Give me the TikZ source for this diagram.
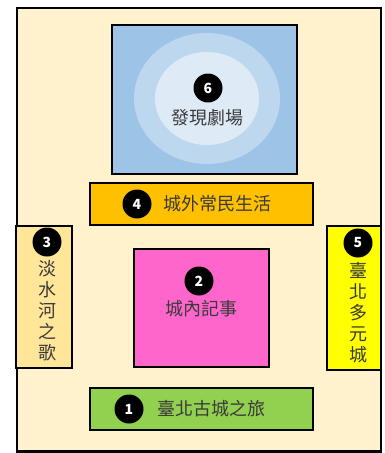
\documentclass[tikz,border=0pt]{standalone}
\usepackage{fontspec}
\setmainfont{Noto Sans CJK TC}
\usetikzlibrary{positioning}

\definecolor{bgcream}{HTML}{FFF2CC}
\definecolor{hallblue}{HTML}{9DC3E6}
\definecolor{ringblue}{HTML}{BDD7EE}
\definecolor{coreblue}{HTML}{DEEBF7}
\definecolor{outorange}{HTML}{FFC000}
\definecolor{riversand}{HTML}{FFE699}
\definecolor{cityyellow}{HTML}{FFFF00}
\definecolor{innerpink}{HTML}{FF66CC}
\definecolor{tourgreen}{HTML}{92D050}
\definecolor{inkgray}{HTML}{3A3A3A}

\tikzset{
  zone/.style={draw=black, line width=1.5pt, inner sep=0pt},
  badge/.style={circle, fill=black, text=white, inner sep=0pt, minimum size=29pt,
    font=\bfseries\fontsize{14}{14}\selectfont},
  zonetext/.style={text=inkgray, inner sep=0pt, align=center,
    font=\fontsize{18}{21}\selectfont}
}

\begin{document}
\begin{tikzpicture}[scale=1.000000,x=1pt,y=-1pt]
\useasboundingbox (0.000000, 0.000000) rectangle (384.000000, 453.000000);
% Drawing floor
\draw[fill=bgcream, line width=2.5pt] (17.000000, 8.000000) rectangle (381.000000, 451.500000);
% Done with floor; drawing zones
% Zone 6: theatre
\node[zone, fill=hallblue, minimum width=185pt, minimum height=149pt] (hall6) at (204.500000, 99.500000) {};
\fill[ringblue] (207.000000, 98.500000) ellipse (73.000000pt and 65.500000pt);
\fill[coreblue] (207.000000, 98.500000) ellipse (52.000000pt and 46.500000pt);
% Zone 4: outer town
\node[zone, fill=outorange, minimum width=223pt, minimum height=42pt] (zone4) at (201.500000, 204.000000) {};
% Zone 3: river (left wall)
\node[zone, fill=riversand, minimum width=56pt, minimum height=142pt] (zone3) at (44.000000, 297.000000) {};
% Zone 5: city (right wall)
\node[zone, fill=cityyellow, minimum width=54pt, minimum height=144pt] (zone5) at (354.000000, 298.000000) {};
% Zone 2: inner town
\node[zone, fill=innerpink, minimum width=135pt, minimum height=118pt] (zone2) at (201.500000, 308.000000) {};
% Zone 1: old city tour
\node[zone, fill=tourgreen, minimum width=223pt, minimum height=42pt] (zone1) at (201.500000, 409.000000) {};
% Done with zones; drawing badges and titles
\node[badge] (badge6) at (208.000000, 88.000000) {6};
\node[zonetext] (title6) at (207.000000, 118.000000) {發現劇場};
\node[badge] (badge4) at (137.000000, 204.000000) {4};
\node[zonetext] (title4) at (217.500000, 204.000000) {城外常民生活};
\node[badge] (badge3) at (47.000000, 242.000000) {3};
\node[zonetext] (title3) at (47.000000, 311.000000) {淡\\水\\河\\之\\歌};
\node[badge] (badge5) at (358.000000, 243.000000) {5};
\node[zonetext] (title5) at (358.000000, 313.000000) {臺\\北\\多\\元\\城};
\node[badge] (badge2) at (199.000000, 281.000000) {2};
\node[zonetext] (title2) at (201.000000, 309.000000) {城內記事};
\node[badge] (badge1) at (129.000000, 409.000000) {1};
\node[zonetext] (title1) at (211.500000, 409.000000) {臺北古城之旅};
% Done with titles
\end{tikzpicture}
\end{document}
